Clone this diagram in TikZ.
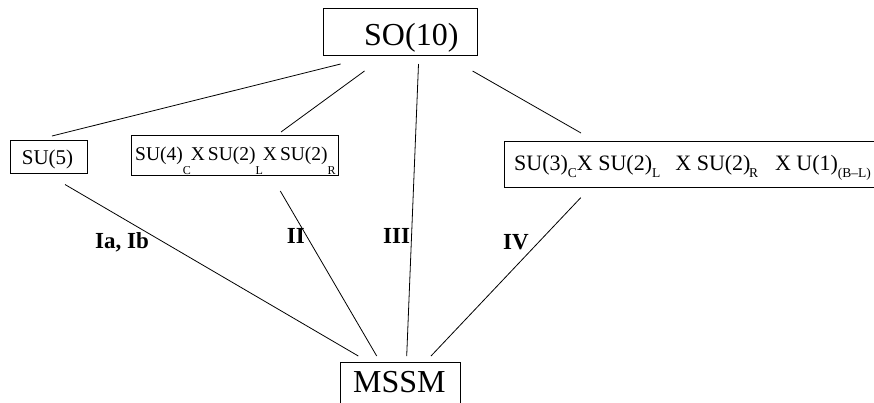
\documentclass[tikz,border=0pt]{standalone}
\usepackage{fontspec}
\setmainfont{Liberation Serif}
\newcommand\lsubA[1]{\raisebox{-14pt}{\fontsize{12pt}{12pt}\selectfont #1}}
\newcommand\lsubB[1]{\raisebox{-7.5pt}{\fontsize{13.5pt}{13.5pt}\selectfont #1}}
\tikzset{
  box/.style={draw, line width=0.9pt, inner sep=0pt},
  big/.style={font=\fontsize{32pt}{36pt}\selectfont, inner sep=0pt, anchor=base west},
  grp/.style={font=\fontsize{21pt}{25pt}\selectfont, inner sep=0pt, anchor=base west},
  grpA/.style={font=\fontsize{19.5pt}{24pt}\selectfont, inner sep=0pt, anchor=base west},
  grpB/.style={font=\fontsize{22pt}{26pt}\selectfont, inner sep=0pt, anchor=base west},
  path/.style={font=\bfseries\fontsize{23pt}{26pt}\selectfont, inner sep=0pt, anchor=base west},
  conn/.style={line width=0.8pt}
}
\begin{document}
\begin{tikzpicture}[x=1pt,y=-1pt]
\useasboundingbox (0,0) rectangle (874,402);
% boxes
\node[box, minimum width=154pt, minimum height=47pt] (so10) at (400,31.7) {};
\node[box, minimum width=120pt, minimum height=48pt] (mssm) at (400.7,386) {};
\node[box, minimum width=77pt, minimum height=33pt] (su5) at (48.7,156.5) {};
\node[box, minimum width=207pt, minimum height=40pt] (su4) at (234.5,155) {};
\node[box, minimum width=386pt, minimum height=46pt] (su3) at (697,164) {};
% texts
\node[big] (so10t) at (364,45.7) {SO(10)};
\node[big] (mssmt) at (353,392.7) {MSSM};
\node[grp] (su5t) at (21.7,164.3) {SU(5)};
\node[grpA] (su4t) at (135,160.7) {SU(4)\lsubA{C}X\hspace{3pt}SU(2)\lsubA{L}X\hspace{3pt}SU(2)\lsubA{R}};
\node[grpB] (su3t) at (514,170) {SU(3)\lsubB{C}X SU(2)\lsubB{L}\hspace{15pt}X SU(2)\kern-1.5pt\lsubB{R}\hspace{17pt}X U(1)\lsubB{(B--L)}};
% path labels
\node[path] (l1) at (95,248.3) {Ia, Ib};
\node[path] (l2) at (286.7,243.3) {II};
\node[path] (l3) at (383,243.3) {III};
\node[path] (l4) at (503,249.3) {IV};
% connector end points
\coordinate (a1) at (340.6,64);   \coordinate (b1) at (52,136);
\coordinate (a2) at (364.5,71);   \coordinate (b2) at (281,132);
\coordinate (a3) at (418.5,64);   \coordinate (b3) at (406.7,356);
\coordinate (a4) at (472.6,71);   \coordinate (b4) at (581,133);
\coordinate (a5) at (65,184.5);   \coordinate (b5) at (358.3,356);
\coordinate (a6) at (280.3,191);  \coordinate (b6) at (376.7,356);
\coordinate (a7) at (580.8,197.6);\coordinate (b7) at (431,356);
\draw[conn] (a1) -- (b1);
\draw[conn] (a2) -- (b2);
\draw[conn] (a3) -- (b3);
\draw[conn] (a4) -- (b4);
\draw[conn] (a5) -- (b5);
\draw[conn] (a6) -- (b6);
\draw[conn] (a7) -- (b7);
\end{tikzpicture}
\end{document}
